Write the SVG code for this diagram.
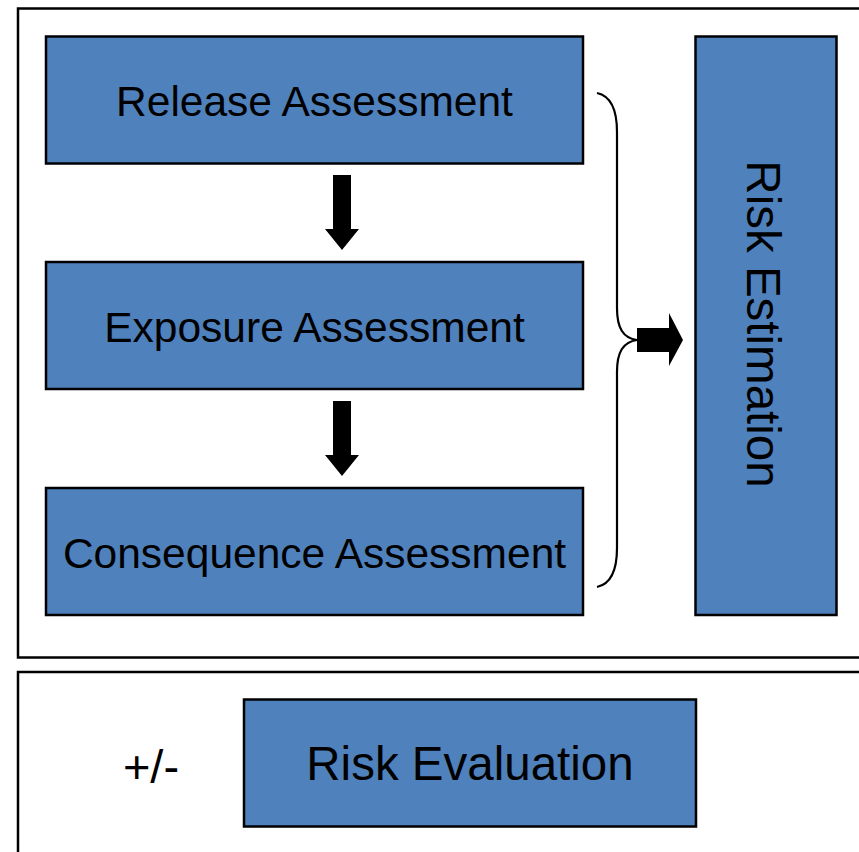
<svg xmlns="http://www.w3.org/2000/svg" width="859" height="852" viewBox="0 0 859 852">
  <style>
    .frame { fill: #ffffff; stroke: #000000; stroke-width: 2.5; }
    .box { fill: #4F81BD; stroke: #000000; stroke-width: 2.5; }
    .lbl { font-family: "Liberation Sans", Arial, sans-serif; fill: #000000; text-anchor: middle; }
    .blk { fill: #000000; stroke: none; }
    .brace { fill: none; stroke: #000000; stroke-width: 2.2; }
  </style>
  <rect x="0" y="0" width="859" height="852" fill="#ffffff"/>
  <g id="frame-estimation">
    <rect class="frame" x="18" y="8.5" width="860" height="649"/>
  </g>
  <g id="frame-evaluation">
    <rect class="frame" x="18" y="672" width="860" height="200"/>
  </g>
  <g id="node-release">
    <rect class="box" x="46" y="36.5" width="537" height="127"/>
    <text class="lbl" x="314.5" y="116" font-size="42.5">Release Assessment</text>
  </g>
  <g id="node-exposure">
    <rect class="box" x="46" y="262" width="537" height="127"/>
    <text class="lbl" x="314.5" y="341.5" font-size="42.5">Exposure Assessment</text>
  </g>
  <g id="node-consequence">
    <rect class="box" x="46" y="488" width="537" height="127"/>
    <text class="lbl" x="314.5" y="567.5" font-size="42.5">Consequence Assessment</text>
  </g>
  <g id="node-risk-estimation">
    <rect class="box" x="695.5" y="36.5" width="141" height="578.5"/>
    <text class="lbl" font-size="47.5" transform="translate(747,324) rotate(90)">Risk Estimation</text>
  </g>
  <g id="node-risk-evaluation">
    <rect class="box" x="244" y="699.5" width="452" height="127"/>
    <text class="lbl" x="470" y="780" font-size="47.5">Risk Evaluation</text>
  </g>
  <g id="label-plusminus">
    <text class="lbl" x="151" y="783" font-size="47">+/-</text>
  </g>
  <g id="connectors">
    <polygon class="blk" points="333,175 351,175 351,229 359,229 342,250 325,229 333,229"/>
    <polygon class="blk" points="333,401 351,401 351,455 359,455 342,476 325,455 333,455"/>
    <path class="brace" d="M597,93 C611,96 617,110 617,132 L617,308 C617,328 623,338 637,340 C623,342 617,352 617,372 L617,548 C617,570 611,584 597,587"/>
    <polygon class="blk" points="637,328 669,328 669,313 683,340 669,366 669,352 637,352"/>
  </g>
</svg>
